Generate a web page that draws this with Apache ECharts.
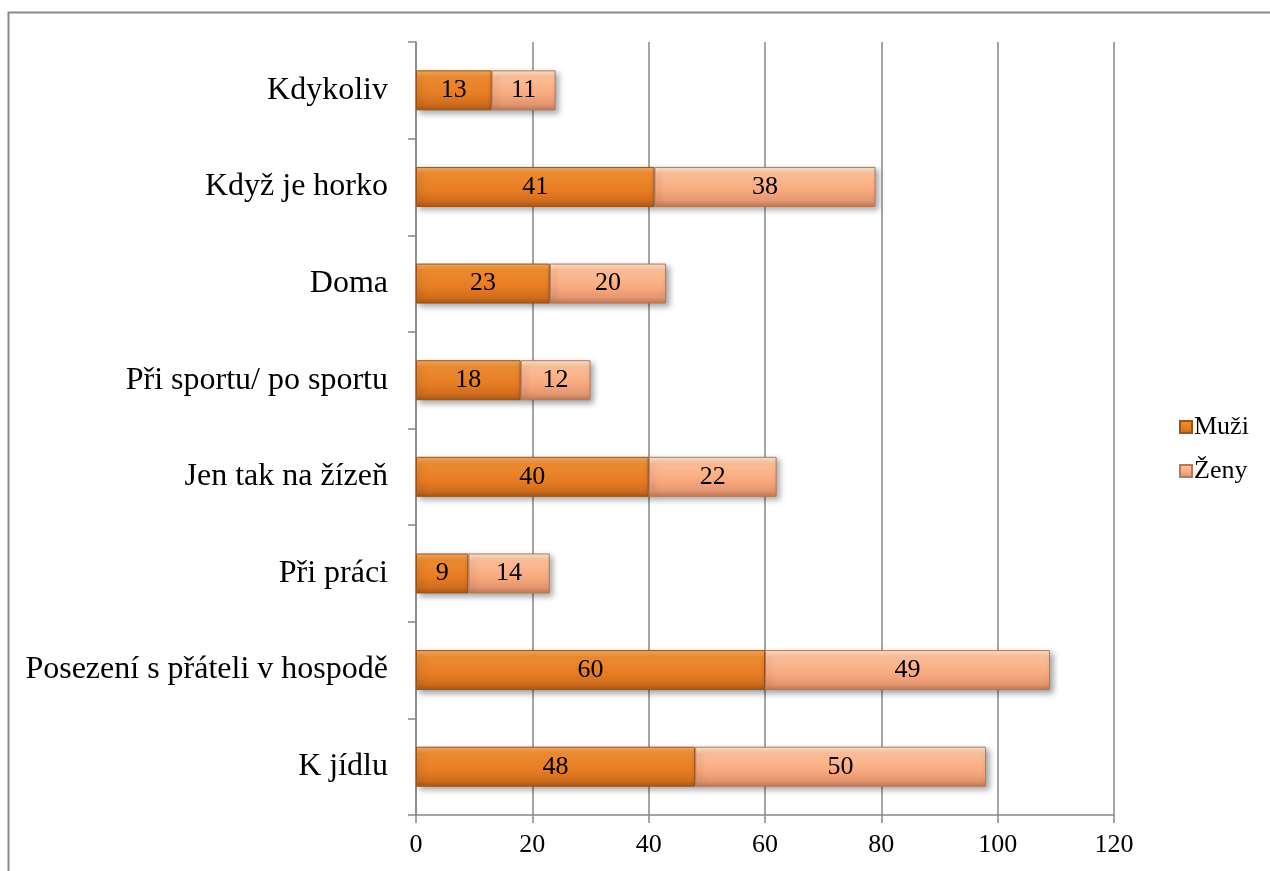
<!DOCTYPE html>
<html>
<head>
<meta charset="utf-8">
<script src="https://cdn.jsdelivr.net/npm/echarts@6/dist/echarts.min.js"></script>
<style>
html,body{margin:0;padding:0;background:#fff;}
#c{width:1270px;height:871px;}
</style>
</head>
<body>
<div id="c"></div>
<script>
const categories = ['K jídlu','Posezení s přáteli v hospodě','Při práci','Jen tak na žízeň','Při sportu/ po sportu','Doma','Když je horko','Kdykoliv'];
const muzi = [48,60,9,40,18,23,41,13];
const zeny = [50,49,14,22,12,20,38,11];
const xTicks = [0,20,40,60,80,100,120];

const chart = echarts.init(document.getElementById('c'));
const FONT = '"Liberation Serif", "Times New Roman", serif';
function grad(stops){
  return new echarts.graphic.LinearGradient(0,0,0,1, stops.map(s=>({offset:s[0], color:s[1]})));
}
const muziColor = grad([[0,'#F7AE62'],[0.18,'#EE8B30'],[0.6,'#E67C23'],[0.85,'#CF6D1D'],[1,'#A9591A']]);
const zenyColor = grad([[0,'#FFE9CF'],[0.18,'#FDBE98'],[0.6,'#F8A97F'],[0.85,'#E4966F'],[1,'#C07A58']]);

chart.setOption({
  animation:false,
  backgroundColor:'#fff',
  graphic:[{type:'rect', shape:{x:8.5,y:12.5,width:1300,height:900}, style:{fill:'none', stroke:'#8a8a8a', lineWidth:2}, silent:true, z:-10}],
  grid:{left:416, right:156, top:42, bottom:56, containLabel:false},
  legend:{
    orient:'vertical', left:1174, top:409, itemWidth:12, itemHeight:12, itemGap:18,
    icon:'rect',
    textStyle:{fontFamily:FONT, fontSize:26, color:'#000', padding:[0,0,0,-3]},
    data:['Muži','Ženy']
  },
  xAxis:{
    type:'value', min:0, max:120, interval:20,
    axisLine:{show:true, lineStyle:{color:'#888', width:1.5}},
    axisTick:{show:true, length:8, lineStyle:{color:'#888', width:1.5}},
    splitLine:{show:true, lineStyle:{color:'#888', width:1.5}},
    axisLabel:{fontFamily:FONT, fontSize:26, color:'#000', margin:17, formatter:v=>xTicks.includes(v)?String(v):''}
  },
  yAxis:{
    type:'category', data:categories,
    axisLine:{show:true, lineStyle:{color:'#888', width:1.5}},
    axisTick:{show:true, length:8, inside:false, lineStyle:{color:'#888', width:1.5}},
    axisLabel:{fontFamily:FONT, fontSize:32, color:'#000', margin:28}
  },
  series:[
    {name:'Muži', type:'bar', stack:'a', data:muzi, barWidth:40,
     itemStyle:{color:muziColor, borderColor:'#9E5218', borderWidth:1, shadowColor:'rgba(0,0,0,0.35)', shadowBlur:6, shadowOffsetX:3, shadowOffsetY:3},
     label:{show:true, position:'inside', fontFamily:FONT, fontSize:26, color:'#000'}},
    {name:'Ženy', type:'bar', stack:'a', data:zeny, barWidth:40,
     itemStyle:{color:zenyColor, borderColor:'#B5785A', borderWidth:1, shadowColor:'rgba(0,0,0,0.35)', shadowBlur:6, shadowOffsetX:3, shadowOffsetY:3},
     label:{show:true, position:'inside', fontFamily:FONT, fontSize:26, color:'#000'}}
  ]
});
</script>
</body>
</html>
